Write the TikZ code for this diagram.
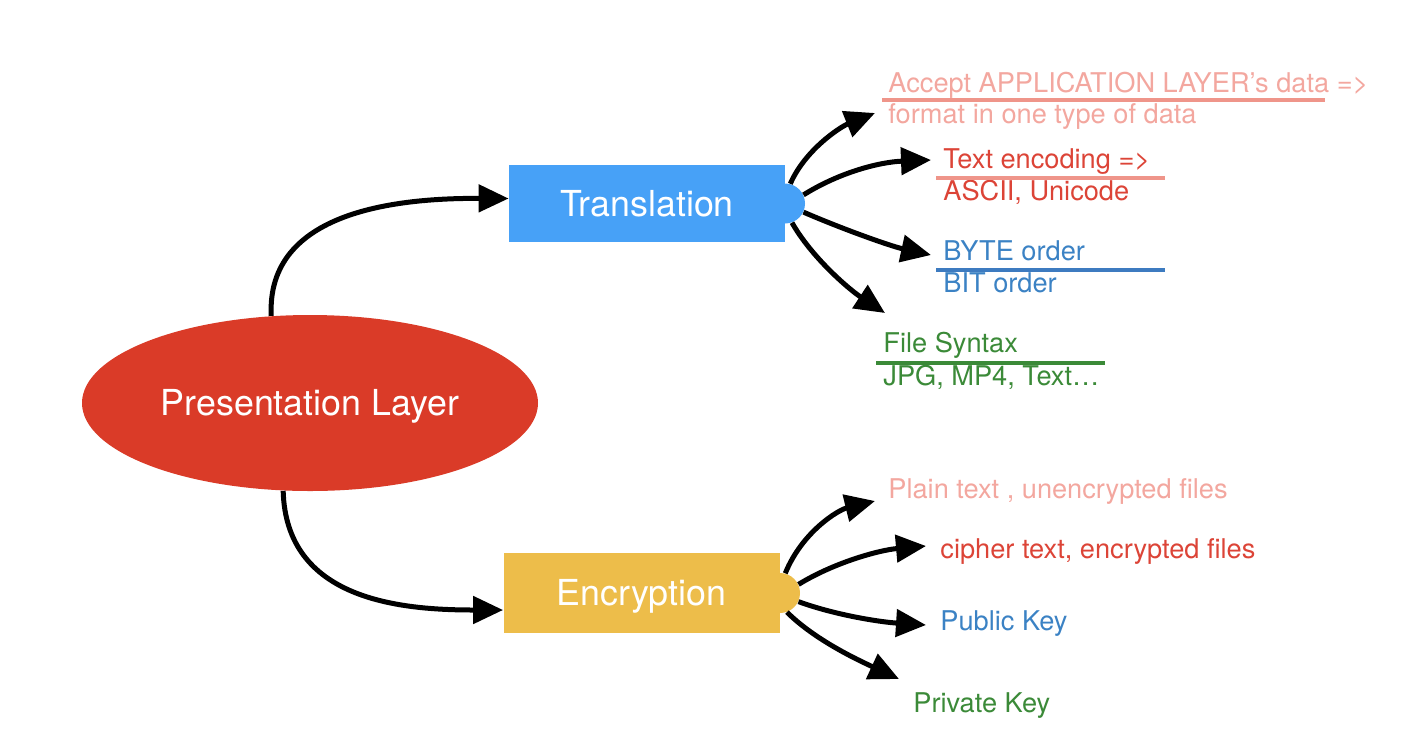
\documentclass[tikz,border=0pt]{standalone}
\usepackage{fontspec}
\setmainfont{TeX Gyre Heros}
\usetikzlibrary{arrows.meta,shapes.geometric,calc}
\definecolor{ellred}{HTML}{DA3B28}
\definecolor{trblue}{HTML}{47A1F7}
\definecolor{enyel}{HTML}{EDBD4A}
\definecolor{lsalmon}{HTML}{F3A79F}
\definecolor{lsalmonline}{HTML}{EF958A}
\definecolor{txred}{HTML}{DC4437}
\definecolor{txblue}{HTML}{3B82C4}
\definecolor{lnblue}{HTML}{3D7BC0}
\definecolor{txgreen}{HTML}{3B8A38}
\begin{document}
\begin{tikzpicture}[x=0.5pt,y=-0.5pt,
  conn/.style={line width=2.5pt,-{Triangle[length=15pt,width=13.5pt]}},
  lbl/.style={anchor=base west,inner sep=0pt,font=\fontsize{13.6}{15}\selectfont},
  bigtxt/.style={text=white,text height=12.9pt,text depth=0pt,font=\fontsize{17.9}{20}\selectfont},
  mainbox/.style={rectangle,inner sep=0pt,minimum width=138pt,bigtxt},
  tabc/.style={circle,inner sep=0pt,minimum size=20pt},
  uline/.style={line width=2pt}]
\useasboundingbox (0,0) rectangle (1414,746);
% main nodes
\node[ellipse,fill=ellred,minimum width=228pt,minimum height=88pt,inner sep=0pt,bigtxt] (pl) at (310,403) {Presentation Layer};
\node[tabc,fill=trblue] (trtab) at (785,203.5) {};
\node[mainbox,fill=trblue,minimum height=38.5pt] (tr) at (647,203.5) {Translation};
\node[tabc,fill=enyel] (entab) at (780,593) {};
\node[mainbox,fill=enyel,minimum height=40pt] (en) at (641.5,593) {Encryption};
% arrows from ellipse
\draw[conn] (pl.114) .. controls (266,210) and (400,198) .. ($(tr.west)+(0,-5)$);
\draw[conn] (pl.253) .. controls (286,600) and (400,610) .. ($(en.west)+(0,17)$);
% translation labels
\node[lbl,text=lsalmon] (t1a) at (888,92) {Accept APPLICATION LAYER’s data =>};
\node[lbl,text=lsalmon] (t1b) at (888,123) {format in one type of data};
\draw[uline,lsalmonline] (882,100) -- (1325,100);
\node[lbl,text=txred] (t2a) at (943,168) {Text encoding =>};
\node[lbl,text=txred] (t2b) at (943,200) {ASCII, Unicode};
\draw[uline,lsalmonline] (936,178) -- (1165,178);
\node[lbl,text=txblue] (t3a) at (943,260) {BYTE order};
\node[lbl,text=txblue] (t3b) at (943,292) {BIT order};
\draw[uline,lnblue] (936,270) -- (1165,270);
\node[lbl,text=txgreen] (t4a) at (883,352) {File Syntax};
\node[lbl,text=txgreen] (t4b) at (883,385) {JPG, MP4, Text…};
\draw[uline,txgreen] (876,363) -- (1105,363);
% translation arrows
\coordinate (ta1) at (875,113);
\coordinate (ta2) at (931,160);
\coordinate (ta3) at (931,255);
\coordinate (ta4) at (885,313);
\draw[conn] (trtab.75) .. controls (805,150) and (840,127) .. (ta1);
\draw[conn] (trtab.25) .. controls (840,172) and (880,162) .. (ta2);
\draw[conn] (trtab.-25) .. controls (840,228) and (890,246) .. (ta3);
\draw[conn] (trtab.-70) .. controls (812,258) and (850,290) .. (ta4);
% encryption labels
\node[lbl,text=lsalmon] (e1) at (888,498) {Plain text , unencrypted files};
\node[lbl,text=txred] (e2) at (940,558) {cipher text, encrypted files};
\node[lbl,text=txblue] (e3) at (940,630) {Public Key};
\node[lbl,text=txgreen] (e4) at (913,712) {Private Key};
% encryption arrows
\coordinate (ea1) at (875,501);
\coordinate (ea2) at (926,546);
\coordinate (ea3) at (926,625);
\coordinate (ea4) at (899,679);
\draw[conn] (entab.75) .. controls (802,532) and (838,510) .. (ea1);
\draw[conn] (entab.25) .. controls (835,562) and (880,550) .. (ea2);
\draw[conn] (entab.-25) .. controls (835,615) and (880,622) .. (ea3);
\draw[conn] (entab.-70) .. controls (815,640) and (858,660) .. (ea4);
\end{tikzpicture}
\end{document}
